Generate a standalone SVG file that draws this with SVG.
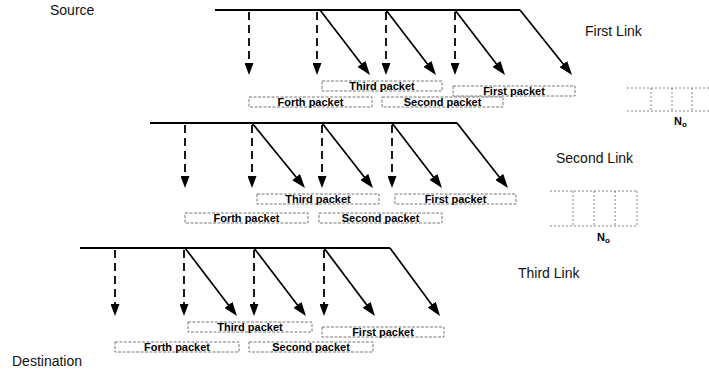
<svg xmlns="http://www.w3.org/2000/svg" width="709" height="378" viewBox="0 0 709 378">
<style>
.lbl{font-family:"Liberation Sans",Arial,sans-serif;font-size:14px;fill:#111}
.pk{font-family:"Liberation Sans",Arial,sans-serif;font-size:11px;font-weight:bold;fill:#000;text-anchor:middle}
.no{font-family:"Liberation Sans",Arial,sans-serif;font-size:11px;font-weight:bold;fill:#000}
.box{fill:none;stroke:#555;stroke-width:0.8;stroke-dasharray:3 1.5}
.buf{fill:none;stroke:#666;stroke-width:0.8;stroke-dasharray:2 2}
.hl{fill:none;stroke:#000;stroke-width:2}
.dl{fill:none;stroke:#000;stroke-width:1.7}
.ds{fill:none;stroke:#000;stroke-width:1.8;stroke-dasharray:8 5}
</style>
<defs>
<marker id="ah" viewBox="0 0 14 10" markerWidth="14" markerHeight="10" markerUnits="userSpaceOnUse" orient="auto" refX="5" refY="5">
<path d="M0,0 L14,5 L0,10 Z" fill="#000"/>
</marker>
<marker id="ad" viewBox="0 0 12 9" markerWidth="12" markerHeight="9" markerUnits="userSpaceOnUse" orient="auto" refX="3" refY="4.5">
<path d="M0,0 L12,4.5 L0,9 Z" fill="#000"/>
</marker>
</defs>

<text id="source" class="lbl" x="50" y="15">Source</text>
<text id="destination" class="lbl" x="12" y="366">Destination</text>

<g id="connectors">
<!-- first link -->
<path class="hl" d="M215,10 H520"/>
<path class="dl" d="M520,10 L566.4,68" marker-end="url(#ah)"/>
<path class="dl" d="M320,10 L364.5,67.9" marker-end="url(#ah)"/>
<path class="dl" d="M386,10 L430.5,67.9" marker-end="url(#ah)"/>
<path class="dl" d="M455,10 L499.5,67.9" marker-end="url(#ah)"/>
<path class="ds" d="M249,12 V66" marker-end="url(#ad)"/>
<path class="ds" d="M317,12 V66" marker-end="url(#ad)"/>
<path class="ds" d="M386,12 V66" marker-end="url(#ad)"/>
<path class="ds" d="M455,12 V66" marker-end="url(#ad)"/>
<!-- second link -->
<path class="hl" d="M150,123 H457"/>
<path class="dl" d="M457,123 L502.4,180.9" marker-end="url(#ah)"/>
<path class="dl" d="M252,123 L299.3,181" marker-end="url(#ah)"/>
<path class="dl" d="M322,123 L367.4,180.9" marker-end="url(#ah)"/>
<path class="dl" d="M392,123 L436.5,180.9" marker-end="url(#ah)"/>
<path class="ds" d="M185,125 V179" marker-end="url(#ad)"/>
<path class="ds" d="M252,125 V179" marker-end="url(#ad)"/>
<path class="ds" d="M322,125 V179" marker-end="url(#ad)"/>
<path class="ds" d="M392,125 V179" marker-end="url(#ad)"/>
<!-- third link -->
<path class="hl" d="M80,248 H390"/>
<path class="dl" d="M390,248 L434.7,308.7" marker-end="url(#ah)"/>
<path class="dl" d="M185,248 L231.5,308.9" marker-end="url(#ah)"/>
<path class="dl" d="M254,248 L300.5,308.9" marker-end="url(#ah)"/>
<path class="dl" d="M324,248 L369.6,308.8" marker-end="url(#ah)"/>
<path class="ds" d="M115,250 V307" marker-end="url(#ad)"/>
<path class="ds" d="M184,250 V307" marker-end="url(#ad)"/>
<path class="ds" d="M254,250 V307" marker-end="url(#ad)"/>
<path class="ds" d="M324,250 V307" marker-end="url(#ad)"/>
</g>

<!-- first link packets -->
<g id="l1-third"><rect class="box" x="322" y="81" width="120" height="10"/><text class="pk" x="382" y="90">Third packet</text></g>
<g id="l1-first"><rect class="box" x="453" y="86" width="122" height="10"/><text class="pk" x="514" y="95">First packet</text></g>
<g id="l1-forth"><rect class="box" x="249" y="97" width="123" height="10"/><text class="pk" x="310.5" y="106">Forth packet</text></g>
<g id="l1-second"><rect class="box" x="382" y="97" width="121" height="10"/><text class="pk" x="442.5" y="106">Second packet</text></g>

<!-- second link packets -->
<g id="l2-third"><rect class="box" x="257" y="194" width="122" height="10"/><text class="pk" x="318" y="203">Third packet</text></g>
<g id="l2-first"><rect class="box" x="395" y="194" width="121" height="10"/><text class="pk" x="455.5" y="203">First packet</text></g>
<g id="l2-forth"><rect class="box" x="185" y="213" width="123" height="10"/><text class="pk" x="246.5" y="222">Forth packet</text></g>
<g id="l2-second"><rect class="box" x="319" y="213" width="123" height="10"/><text class="pk" x="380.5" y="222">Second packet</text></g>

<!-- third link packets -->
<g id="l3-third"><rect class="box" x="188" y="322" width="124" height="10"/><text class="pk" x="250" y="331">Third packet</text></g>
<g id="l3-first"><rect class="box" x="322" y="327" width="122" height="10"/><text class="pk" x="383" y="336">First packet</text></g>
<g id="l3-forth"><rect class="box" x="115" y="342" width="124" height="10"/><text class="pk" x="177" y="351">Forth packet</text></g>
<g id="l3-second"><rect class="box" x="249" y="342" width="124" height="10"/><text class="pk" x="311" y="351">Second packet</text></g>

<!-- link labels -->
<text id="first-link" class="lbl" x="585" y="36">First Link</text>
<text id="second-link" class="lbl" x="556" y="163">Second Link</text>
<text id="third-link" class="lbl" x="518" y="278">Third Link</text>

<!-- buffers -->
<g id="buffer1">
<path class="buf" d="M627,88 H709 M627,111 H709 M651,88 V111 M672,88 V111 M692,88 V111"/>
<text class="no" x="674" y="125">N<tspan font-size="8" dy="2">o</tspan></text>
</g>
<g id="buffer2">
<path class="buf" d="M550,191 H637 M550,226 H637 M573,191 V226 M594,191 V226 M615,191 V226 M637,191 V226"/>
<text class="no" x="597" y="241">N<tspan font-size="8" dy="2">o</tspan></text>
</g>
</svg>
